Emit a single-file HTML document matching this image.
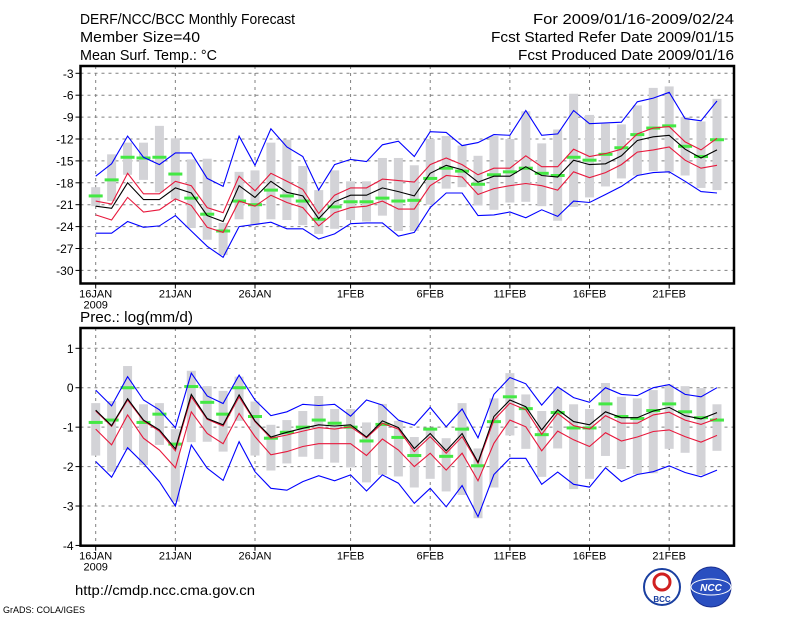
<!DOCTYPE html>
<html><head><meta charset="utf-8"><style>
html,body{margin:0;padding:0;background:#fff;}
svg{display:block;font-family:"Liberation Sans",sans-serif;}
</style></head><body>
<svg id="chart" width="800" height="618" viewBox="0 0 800 618" xmlns="http://www.w3.org/2000/svg">
<g font-size="15" fill="#000">
<text x="80" y="24" textLength="215" lengthAdjust="spacingAndGlyphs">DERF/NCC/BCC Monthly Forecast</text>
<text x="80" y="42" textLength="120" lengthAdjust="spacingAndGlyphs">Member Size=40</text>
<text x="80" y="60" textLength="137" lengthAdjust="spacingAndGlyphs">Mean Surf. Temp.: °C</text>
<text x="533" y="24" textLength="201" lengthAdjust="spacingAndGlyphs">For 2009/01/16-2009/02/24</text>
<text x="491" y="42" textLength="243" lengthAdjust="spacingAndGlyphs">Fcst Started Refer Date 2009/01/15</text>
<text x="518" y="60" textLength="216" lengthAdjust="spacingAndGlyphs">Fcst Produced Date 2009/01/16</text>
<text x="80" y="322" textLength="113" lengthAdjust="spacingAndGlyphs">Prec.: log(mm/d)</text>
<text x="75" y="595" font-size="14" textLength="180" lengthAdjust="spacingAndGlyphs">http://cmdp.ncc.cma.gov.cn</text>
<text x="3" y="613" font-size="9">GrADS: COLA/IGES</text>
</g>
<g>
<circle cx="662" cy="587" r="18" fill="#fff" stroke="#1a3fa0" stroke-width="2"/>
<circle cx="662" cy="582" r="8" fill="none" stroke="#d02020" stroke-width="3"/>
<text x="662" y="602" font-size="8" text-anchor="middle" fill="#1a3fa0" font-weight="bold">BCC</text>
</g>
<g>
<circle cx="711" cy="587" r="20" fill="#2a4fc0" stroke="#1a2f90" stroke-width="1"/>
<ellipse cx="711" cy="587" rx="20" ry="8" fill="none" stroke="#fff" stroke-width="1"/>
<text x="711" y="591" font-size="10" text-anchor="middle" fill="#fff" font-weight="bold" font-style="italic">NCC</text>
</g>
<g id="plots"></g>
</svg>
<script>
const dayLabels = ["16JAN","21JAN","26JAN","1FEB","6FEB","11FEB","16FEB","21FEB"];
const dayLabelIdx = [0,5,10,16,21,26,31,36];
const tTicks = [-3,-6,-9,-12,-15,-18,-21,-24,-27,-30];
const pTicks = [1,0,-1,-2,-3,-4];

const tBlueHi = [-17.1,-15.4,-11.6,-14.5,-15.5,-13.9,-13.9,-17.4,-18.5,-11.6,-15.6,-10.6,-13.1,-14.4,-19.0,-15.5,-14.8,-15.1,-12.8,-12.3,-14.4,-11.0,-11.1,-12.9,-12.5,-11.4,-11.5,-8.1,-11.5,-11.3,-8.1,-9.9,-9.8,-9.7,-6.9,-6.4,-5.6,-9.2,-9.5,-6.8];
const tBlueLo = [-24.9,-24.9,-23.3,-24.1,-23.9,-22.5,-24.6,-26.7,-28.2,-24.0,-23.7,-23.4,-24.3,-24.3,-25.7,-25.0,-23.6,-23.5,-23.5,-25.3,-24.8,-21.4,-19.4,-19.4,-22.5,-22.4,-22.0,-22.8,-21.7,-22.6,-20.5,-20.7,-19.6,-18.5,-17.0,-16.6,-16.5,-17.8,-19.2,-19.4];
const tRedHi = [-20.5,-20.9,-16.7,-19.5,-19.5,-17.8,-18.4,-21.4,-22.1,-17.1,-19.1,-16.7,-17.8,-18.9,-22.2,-19.7,-18.7,-18.7,-17.5,-17.7,-17.9,-15.5,-14.6,-15.5,-16.9,-16.0,-16.0,-14.3,-15.8,-15.8,-13.4,-14.4,-14.0,-13.4,-11.3,-10.5,-10.3,-12.4,-13.5,-11.9];
const tMean = [-21.2,-21.5,-18.0,-20.3,-20.3,-18.7,-19.4,-22.5,-23.3,-18.4,-20.0,-17.8,-19.3,-19.8,-22.9,-20.6,-19.7,-19.7,-18.7,-19.2,-19.8,-16.7,-15.6,-16.2,-17.9,-17.1,-17.1,-15.8,-17.0,-17.2,-14.9,-15.5,-15.4,-14.3,-12.2,-11.7,-11.5,-13.4,-14.6,-13.5];
const tRedLo = [-22.4,-23.1,-20.0,-22.0,-21.7,-20.2,-21.1,-24.1,-24.8,-20.5,-21.2,-19.7,-20.7,-21.4,-23.9,-22.1,-21.4,-21.2,-20.5,-21.6,-21.6,-18.4,-17.0,-17.2,-19.6,-18.8,-18.4,-18.1,-18.4,-19.0,-16.5,-17.3,-16.6,-15.5,-13.8,-13.5,-13.1,-14.9,-16.0,-15.6];
const tGreen = [-19.8,-17.6,-14.5,-14.6,-14.5,-16.8,-20.1,-22.3,-24.6,-20.5,-21.0,-19.0,-19.8,-20.5,-23.0,-21.3,-20.6,-20.6,-20.1,-20.5,-20.4,-17.4,-16.0,-16.4,-18.2,-16.9,-16.5,-16.0,-16.7,-17.0,-14.5,-14.9,-14.1,-13.2,-11.4,-10.5,-10.2,-13.0,-14.4,-12.1];
const tBoxHi = [-18.6,-14.1,-12.5,-12.5,-10.2,-11.9,-14.8,-14.7,-23.5,-16.5,-16.3,-12.5,-12.1,-15.7,-19.0,-16.3,-17.8,-17.8,-14.6,-14.6,-15.6,-12.0,-11.6,-12.9,-14.3,-11.6,-12.0,-8.2,-12.6,-10.7,-5.8,-8.7,-9.9,-10.0,-7.4,-5.0,-4.8,-9.0,-9.6,-6.5];
const tBoxLo = [-21.2,-20.5,-16.9,-17.6,-19.3,-20.3,-24.2,-25.8,-27.9,-23.0,-23.8,-23.0,-23.1,-23.8,-25.0,-24.3,-23.1,-23.3,-22.5,-24.6,-24.6,-21.0,-18.8,-18.6,-21.1,-21.7,-20.7,-20.6,-21.2,-23.2,-21.3,-20.0,-18.5,-17.4,-17.0,-16.4,-16.5,-17.0,-18.7,-19.0];

const pBlueHi = [-0.06,-0.46,0.28,-0.31,-0.56,-1.01,0.37,-0.21,-0.40,0.32,-0.31,-0.71,-0.61,-0.42,-0.45,-0.42,-0.72,-0.31,-0.44,-0.82,-0.95,-0.5,-0.99,-0.54,-1.27,-0.17,0.26,0.1,-0.44,0.02,-0.25,-0.37,0.0,-0.17,-0.2,0.0,0.08,-0.17,-0.23,0.0];
const pBlueLo = [-1.87,-2.27,-1.52,-1.92,-2.38,-3.0,-1.45,-2.04,-2.35,-1.37,-2.13,-2.55,-2.6,-2.38,-2.23,-2.36,-2.21,-2.62,-2.21,-2.42,-2.93,-2.55,-3.02,-2.48,-3.27,-2.2,-1.79,-1.79,-2.45,-2.14,-2.45,-2.52,-2.03,-2.38,-2.2,-2.13,-1.98,-2.15,-2.26,-2.09];
const pMean = [-0.57,-0.96,-0.28,-0.82,-1.07,-1.55,-0.17,-0.78,-0.94,-0.18,-0.84,-1.25,-1.13,-1.03,-0.94,-0.97,-0.94,-1.25,-0.84,-1.01,-1.54,-1.16,-1.6,-1.16,-1.89,-0.73,-0.31,-0.48,-1.07,-0.56,-0.86,-0.94,-0.61,-0.76,-0.76,-0.59,-0.5,-0.71,-0.79,-0.63];
const pRedHi = [-0.59,-0.98,-0.31,-0.84,-1.10,-1.6,-0.23,-0.8,-0.97,-0.23,-0.86,-1.28,-1.2,-1.1,-1.01,-1.05,-0.99,-1.27,-0.9,-1.05,-1.62,-1.24,-1.66,-1.24,-1.92,-0.82,-0.39,-0.56,-1.18,-0.65,-0.96,-1.05,-0.71,-0.9,-0.9,-0.69,-0.62,-0.82,-0.93,-0.78];
const pRedLo = [-1.05,-1.45,-0.69,-1.28,-1.58,-2.03,-0.61,-1.16,-1.42,-0.65,-1.24,-1.7,-1.62,-1.49,-1.42,-1.42,-1.42,-1.72,-1.3,-1.58,-2.0,-1.66,-2.09,-1.66,-2.36,-1.41,-0.82,-0.99,-1.6,-1.1,-1.32,-1.49,-1.14,-1.35,-1.25,-1.11,-1.07,-1.24,-1.38,-1.21];
const pGreen = [-0.88,-0.82,0.0,-0.88,-0.67,-1.43,0.03,-0.37,-0.67,0.0,-0.73,-1.28,-1.13,-1.0,-0.82,-0.9,-1.0,-1.35,-0.93,-1.26,-1.72,-1.05,-1.74,-1.05,-1.98,-0.86,-0.23,-0.53,-1.19,-0.63,-1.02,-1.02,-0.41,-0.73,-0.78,-0.58,-0.41,-0.61,-0.76,-0.82];
const pBoxHi = [-0.39,-0.34,0.55,-0.42,-0.39,-1.05,0.43,0.04,-0.08,0.28,-0.35,-0.94,-0.82,-0.59,-0.21,-0.54,-0.54,-0.88,-0.41,-0.84,-1.25,-1.05,-1.28,-0.39,-1.54,-0.27,0.37,-0.17,-0.59,-0.01,-0.42,-0.54,0.12,-0.23,-0.27,-0.06,0.08,0.04,-0.01,-0.42];
const pBoxLo = [-1.72,-2.13,-1.58,-1.96,-1.45,-2.89,-1.38,-1.37,-1.62,-0.84,-1.72,-2.1,-1.92,-1.75,-1.81,-1.9,-2.02,-2.4,-2.21,-2.25,-2.53,-2.31,-2.63,-2.72,-3.31,-2.53,-1.21,-1.55,-2.26,-1.54,-2.57,-2.31,-1.73,-2.06,-2.19,-2.17,-1.55,-1.65,-2.21,-1.6];

const NS = "http://www.w3.org/2000/svg";
const root = document.getElementById("plots");
function xDay(d){ return 95.7 + d*15.93; }
function mk(tag, attrs, parent){
  const e = document.createElementNS(NS, tag);
  for (const k in attrs) e.setAttribute(k, attrs[k]);
  parent.appendChild(e);
  return e;
}
function drawPanel(p){
  const g = mk("g", {}, root);
  
  
  p.ticks.forEach(t => {
    const y = p.y(t);
    const l = mk("line", {x1:p.x0, x2:p.x1, y1:y, y2:y, stroke:"#808080", "stroke-width":1, "stroke-dasharray":"3,4"}, g);
    
    
    const tx = mk("text", {x:p.x0-7, y:y+4.5, "font-size":12, "text-anchor":"end"}, g);
    tx.textContent = t;
    
    
    const tk = mk("line", {x1:p.x0-5, x2:p.x0, y1:y, y2:y, stroke:"#000"}, g);
    
    
  });
  dayLabelIdx.forEach((d, i) => {
    const x = xDay(d);
    const l = mk("line", {x1:x, x2:x, y1:p.y0, y2:p.y1, stroke:"#808080", "stroke-width":1, "stroke-dasharray":"3,4"}, g);
    
    
    const tk = mk("line", {x1:x, x2:x, y1:p.y1, y2:p.y1+5, stroke:"#000"}, g);
    
    
    const tx = mk("text", {x:x, y:p.y1+14, "font-size":11, "text-anchor":"middle"}, g);
    tx.textContent = dayLabels[i];
    
    
  });
  const yr = mk("text", {x:xDay(0), y:p.y1+25, "font-size":11, "text-anchor":"middle"}, g);
  yr.textContent = "2009";
  
  
  p.boxHi.forEach((hi, i) => {
    const a = p.y(hi), b = p.y(p.boxLo[i]);
    const r = mk("rect", {x:xDay(i)-4.5, y:a, width:9, height:b-a, fill:"#d3d3d7"}, g);
    
    
  });
  p.green.forEach((v, i) => {
    const r = mk("rect", {x:xDay(i)-7, y:p.y(v)-1.5, width:14, height:3, fill:"#44e844"}, g);
    
    
  });
  const lines = [[p.blueHi,"#0000ff","blue-upper-line"],[p.blueLo,"#0000ff","blue-lower-line"],[p.redHi,"#e8183c","red-upper-line"],[p.redLo,"#e8183c","red-lower-line"],[p.mean,"#000","ensemble-mean-line"]];
  lines.forEach(([arr, col, nm]) => {
    const pts = arr.map((v, i) => xDay(i).toFixed(1) + "," + p.y(v).toFixed(1)).join(" ");
    const pl = mk("polyline", {points:pts, fill:"none", stroke:col, "stroke-width":1.1}, g);
    
    
  });
  const fr = mk("rect", {x:p.x0, y:p.y0, width:p.x1-p.x0, height:p.y1-p.y0, fill:"none", stroke:"#000", "stroke-width":2.5}, g);
  
  
}
drawPanel({name:"temperature-panel", x0:80.5, x1:734, y0:66, y1:283.5, ticks:tTicks,
  y: v => 73.3 + (-3 - v)*7.3,
  blueHi:tBlueHi, blueLo:tBlueLo, redHi:tRedHi, redLo:tRedLo, mean:tMean, green:tGreen, boxHi:tBoxHi, boxLo:tBoxLo});
drawPanel({name:"precipitation-panel", x0:80.5, x1:734, y0:328, y1:545.7, ticks:pTicks,
  y: v => 348.3 + (1 - v)*39.43,
  blueHi:pBlueHi, blueLo:pBlueLo, redHi:pRedHi, redLo:pRedLo, mean:pMean, green:pGreen, boxHi:pBoxHi, boxLo:pBoxLo});
</script>
</body></html>
